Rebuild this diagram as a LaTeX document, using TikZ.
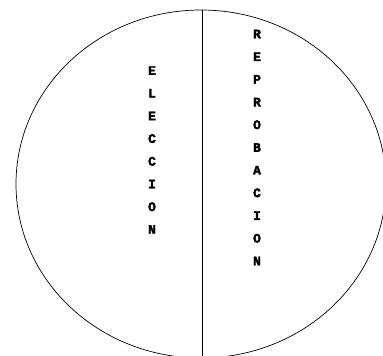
\documentclass[tikz,border=0pt]{standalone}
\usepackage{fontspec}
\newfontfamily\monofnt[BoldFeatures={FakeBold=2.5}]{Liberation Mono}
\usetikzlibrary{positioning}

\begin{document}
\begin{tikzpicture}[x=1pt,y=-1pt,line width=0.7pt,
  word/.style={align=center,inner sep=0pt,
    font=\monofnt\bfseries\fontsize{13}{22.7}\selectfont}]
  \useasboundingbox (0,0) rectangle (383,356);
  % the whole
  \draw (201,184) ellipse [x radius=185,y radius=174];
  \coordinate (top) at (202,10);
  \coordinate (bot) at (202,356);
  \draw (top) -- (bot);
  % the two halves
  \node[word] (eleccion) at (152,150) {E\\L\\E\\C\\C\\I\\O\\N};
  \node[word] (reprobacion) at (257,147.5) {R\\E\\P\\R\\O\\B\\A\\C\\I\\O\\N};
\end{tikzpicture}
\end{document}
